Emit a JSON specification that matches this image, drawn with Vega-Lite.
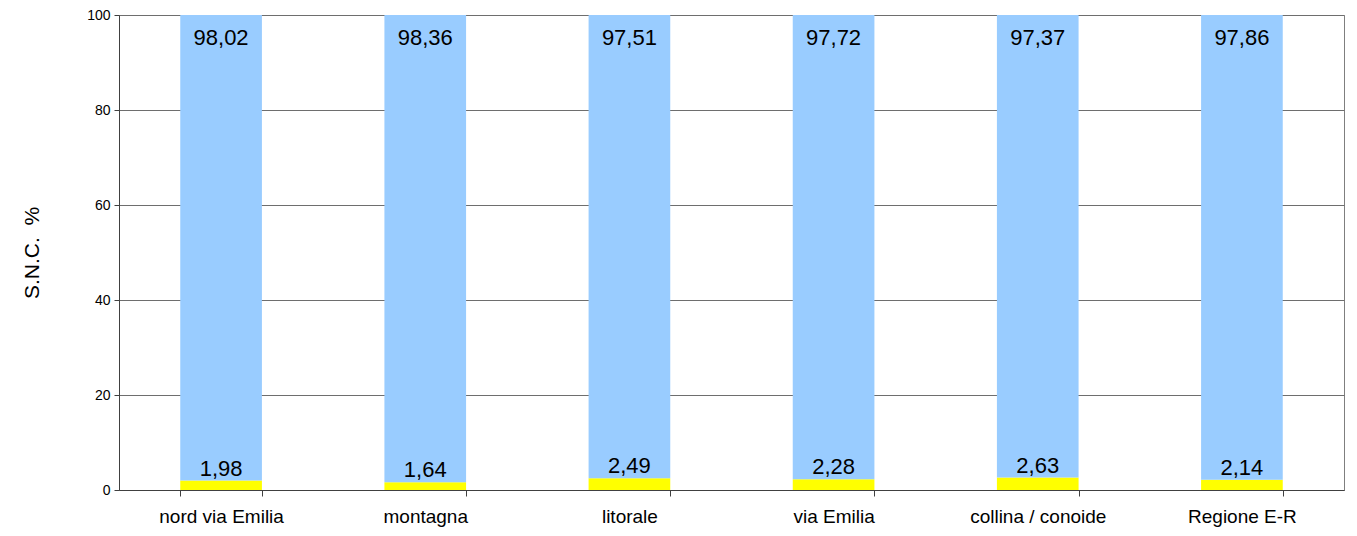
{
  "$schema": "https://vega.github.io/schema/vega-lite/v6.json",
  "width": 1225,
  "height": 475,
  "autosize": {"type": "none"},
  "padding": {"left": 119, "top": 15, "right": 13, "bottom": 46},
  "background": "white",
  "config": {
    "font": "Liberation Sans",
    "locale": {"number": {"decimal": ",", "thousands": ".", "grouping": [3], "currency": ["", " €"]}},
    "view": {"stroke": "#7f7f7f", "strokeWidth": 1}
  },
  "data": {
    "values": [
      {"area": "nord via Emilia", "serie": "non conforme", "ordine": 1, "valore": 1.98},
      {"area": "nord via Emilia", "serie": "conforme", "ordine": 2, "valore": 98.02},
      {"area": "montagna", "serie": "non conforme", "ordine": 1, "valore": 1.64},
      {"area": "montagna", "serie": "conforme", "ordine": 2, "valore": 98.36},
      {"area": "litorale", "serie": "non conforme", "ordine": 1, "valore": 2.49},
      {"area": "litorale", "serie": "conforme", "ordine": 2, "valore": 97.51},
      {"area": "via Emilia", "serie": "non conforme", "ordine": 1, "valore": 2.28},
      {"area": "via Emilia", "serie": "conforme", "ordine": 2, "valore": 97.72},
      {"area": "collina / conoide", "serie": "non conforme", "ordine": 1, "valore": 2.63},
      {"area": "collina / conoide", "serie": "conforme", "ordine": 2, "valore": 97.37},
      {"area": "Regione E-R", "serie": "non conforme", "ordine": 1, "valore": 2.14},
      {"area": "Regione E-R", "serie": "conforme", "ordine": 2, "valore": 97.86}
    ]
  },
  "encoding": {
    "x": {
      "field": "area",
      "type": "nominal",
      "sort": null,
      "scale": {"paddingInner": 0.6, "paddingOuter": 0.3},
      "axis": {
        "title": null,
        "labelAngle": 0,
        "labelFont": "Liberation Sans",
        "labelFontSize": 19,
        "labelColor": "#000000",
        "labelPadding": 11,
        "tickBand": "extent",
        "tickSize": 6,
        "tickColor": "#404040",
        "domainColor": "#404040",
        "grid": false
      }
    }
  },
  "layer": [
    {
      "mark": {"type": "bar"},
      "encoding": {
        "y": {
          "field": "valore",
          "type": "quantitative",
          "stack": "zero",
          "scale": {"domain": [0, 100], "nice": false},
          "axis": {
            "title": "S.N.C.\u00a0\u00a0%",
            "titleFont": "Liberation Sans",
            "titleFontSize": 21,
            "titleFontWeight": "normal",
            "titleColor": "#000000",
            "titlePadding": 44,
            "values": [0, 20, 40, 60, 80, 100],
            "labelFontSize": 14,
            "labelColor": "#000000",
            "labelPadding": 4,
            "tickSize": 5,
            "tickColor": "#404040",
            "domainColor": "#404040",
            "gridColor": "#6e6e6e",
            "gridOpacity": 1
          }
        },
        "color": {
          "field": "serie",
          "type": "nominal",
          "scale": {"domain": ["non conforme", "conforme"], "range": ["#FFFF00", "#99CCFF"]},
          "legend": null
        },
        "order": {"field": "ordine", "type": "quantitative"}
      }
    },
    {
      "mark": {"type": "text", "baseline": "middle", "dy": 23, "fontSize": 22, "color": "#000000"},
      "encoding": {
        "y": {"field": "valore", "type": "quantitative", "stack": "zero"},
        "detail": {"field": "serie", "type": "nominal"},
        "order": {"field": "ordine", "type": "quantitative"},
        "text": {
          "condition": {"test": "datum.serie === 'conforme'", "field": "valore", "type": "quantitative", "format": ".2f"},
          "value": ""
        }
      }
    },
    {
      "transform": [{"filter": "datum.serie === 'non conforme'"}],
      "mark": {"type": "text", "baseline": "alphabetic", "dy": -5, "fontSize": 22, "color": "#000000"},
      "encoding": {
        "y": {"field": "valore", "type": "quantitative"},
        "text": {"field": "valore", "type": "quantitative", "format": ".2f"}
      }
    }
  ]
}
